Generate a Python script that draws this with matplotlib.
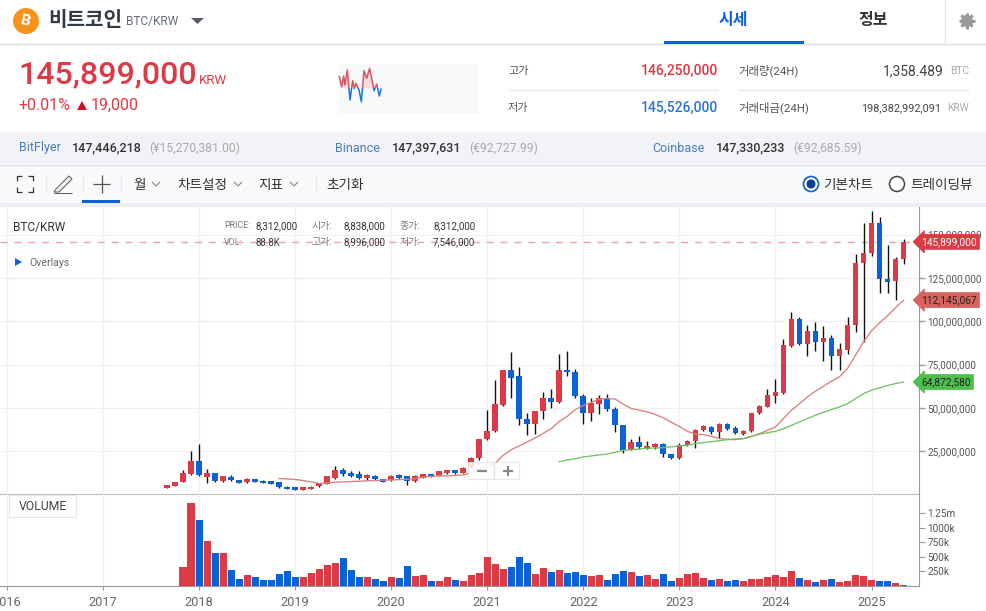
import matplotlib
matplotlib.use("Agg")
import matplotlib.pyplot as plt
from matplotlib.patches import Circle, Polygon, Rectangle
import numpy as np
import pandas as pd

plt.rcParams['font.family'] = ['Roboto', 'Noto Sans CJK KR', 'DejaVu Sans']

W, H = 987, 611
RED = '#dc3a45'
BLUE = '#0b62d6'

# monthly candles from 2017-09 to 2025-05, millions of KRW
opens = [3.7, 4.8, 6.9, 11.6, 19.1, 10.2, 12.2, 7.5, 10.2, 8.1, 6.9, 8.7, 7.9, 7.5, 7.0, 4.4,
         4.0, 2.5, 3.1, 4.6, 6.2, 9.6, 13.9, 12.4, 11.6, 9.3, 10.8, 8.7, 8.1, 11.0, 10.4,
         7.7, 9.6, 11.6, 10.6, 12.2, 13.9, 12.4, 15.8, 21.0, 31.8, 36.4, 51.7, 71.8, 68.3, 43.8,
         40.5, 48.0, 55.5, 53.2, 72.1, 70.4, 56.7, 47.1, 52.3, 55.4, 49.2, 39.9, 25.8, 30.5, 26.4,
         27.2, 28.9, 23.1, 20.8, 28.7, 30.8, 37.0, 39.1, 36.0, 40.5, 38.1, 34.7, 36.4, 47.0, 50.5,
         56.9, 58.6, 85.8, 101.2, 86.8, 94.3, 87.9, 90.2, 80.0, 83.5, 98.1, 133.8, 139.6, 157.0,
         124.4, 123.2, 136.0]
closes = [5.2, 7.3, 12.2, 19.1, 11.0, 12.2, 7.7, 10.4, 8.1, 6.6, 8.7, 7.1, 6.6, 6.0, 4.1, 3.1,
          2.5, 4.0, 4.4, 6.6, 10.4, 13.9, 11.6, 10.4, 9.6, 11.0, 8.7, 7.1, 10.8, 9.4, 7.7,
          10.4, 11.6, 10.0, 13.3, 13.9, 12.2, 15.4, 21.2, 31.8, 36.4, 52.1, 71.8, 67.5, 43.6, 40.5,
          48.0, 55.4, 53.4, 72.1, 70.8, 56.7, 47.1, 52.9, 55.4, 49.2, 39.9, 25.8, 30.5, 27.4, 27.8,
          28.9, 23.1, 20.8, 28.7, 31.0, 37.4, 39.3, 36.0, 40.5, 37.8, 35.5, 36.4, 46.8, 50.9, 57.3,
          59.0, 86.2, 101.2, 86.8, 94.3, 88.1, 90.2, 80.0, 83.9, 98.1, 133.4, 139.6, 157.0, 124.4,
          122.6, 136.0, 145.9]
highs = [5.3, 7.4, 13.9, 24.9, 29.0, 14.5, 12.6, 10.6, 10.9, 8.3, 9.6, 8.9, 8.0, 7.7, 7.2, 4.6,
         4.1, 4.1, 4.6, 6.8, 10.6, 16.6, 15.4, 13.3, 13.2, 12.0, 11.2, 8.9, 11.0, 12.0, 10.8,
         11.1, 11.9, 12.0, 13.6, 14.3, 14.2, 15.7, 21.6, 32.0, 48.6, 66.0, 72.0, 82.2, 73.3, 47.1,
         48.2, 59.0, 61.0, 81.2, 82.6, 72.7, 58.2, 55.4, 57.5, 57.7, 50.7, 40.1, 32.2, 33.6, 31.0,
         29.7, 29.7, 23.5, 29.9, 31.4, 38.0, 40.1, 39.7, 41.4, 41.4, 39.5, 37.0, 47.0, 51.7, 61.1,
         66.9, 90.0, 105.1, 102.6, 98.1, 99.3, 97.0, 92.0, 87.2, 102.2, 138.7, 157.0, 163.5, 160.0,
         144.0, 137.3, 147.3]
lows = [3.6, 4.6, 6.9, 11.0, 10.4, 6.8, 7.4, 7.2, 7.9, 6.4, 6.7, 6.9, 6.4, 5.8, 3.9, 3.0,
        2.4, 2.4, 3.0, 4.5, 6.0, 9.0, 10.4, 10.0, 9.0, 8.0, 8.0, 6.9, 7.9, 9.0, 5.6,
        7.4, 9.3, 9.8, 10.4, 11.9, 12.0, 12.2, 15.4, 19.7, 31.2, 36.0, 51.2, 55.4, 39.9, 34.0,
        35.0, 43.8, 50.0, 52.9, 68.3, 55.7, 40.7, 42.4, 46.7, 48.2, 36.3, 23.9, 25.5, 26.4, 26.0,
        26.4, 21.6, 20.5, 20.6, 28.0, 27.0, 36.4, 35.1, 32.8, 37.4, 35.1, 34.3, 36.0, 46.3, 50.5,
        53.0, 57.8, 85.2, 86.0, 80.0, 83.1, 77.3, 72.1, 72.1, 80.8, 93.5, 88.1, 137.7, 116.5,
        116.1, 112.2, 133.0]

# red average starts 2018-11, green average starts 2021-10
ma_short = [9.1, 8.9, 8.6, 8.0, 7.2, 6.3, 6.6, 7.0, 7.2, 7.4, 7.6, 7.8, 8.0, 8.2, 8.3, 8.5, 8.7,
            9.0, 10.0, 10.4, 10.7, 10.6, 10.9, 11.2, 12.5, 14.3, 15.8, 18.1, 22.6, 25.8, 28.0, 30.3,
            32.6, 35.3, 38.0, 42.2, 45.1, 49.0, 51.3, 53.2, 55.0, 55.4, 55.0, 52.1, 49.6, 48.6, 47.6,
            46.1, 44.2, 41.7, 39.2, 36.4, 34.7, 34.5, 33.5, 32.2, 31.8, 31.6, 32.2, 33.5, 35.1, 37.0,
            38.9, 43.8, 48.6, 52.4, 56.3, 59.6, 62.5, 65.4, 67.9, 72.7, 80.4, 88.1, 94.5, 99.1,
            103.2, 107.8, 112.2]
ma_long = [18.9, 19.9, 20.6, 21.6, 22.2, 22.8, 23.3, 24.3, 25.5, 25.8, 26.2, 26.6, 26.8, 27.0, 27.4,
           28.0, 28.4, 29.3, 29.9, 30.4, 31.0, 31.6, 32.0, 32.2, 33.5, 34.7, 35.6, 36.4, 37.9, 39.9,
           41.8, 43.8, 45.7, 47.4, 49.0, 50.5, 52.4, 55.3, 58.2, 60.2, 61.5, 62.9, 64.0, 64.9]

# thousands, starts 2017-11
volume = [325, 1416, 1125, 765, 560, 560, 268, 114, 183, 148, 97, 97, 200, 251,
          148, 148, 217, 285, 354, 388, 474, 268, 148, 148, 114, 80, 148, 131, 342,
          171, 188, 86, 86, 154, 103, 86, 188, 223, 497, 377, 291, 325, 497, 394,
          205, 308, 240, 274, 223, 240, 188, 171, 188, 103, 205, 257, 240, 171, 188,
          120, 205, 86, 137, 205, 223, 137, 103, 120, 86, 103, 86, 120, 120, 154,
          188, 154, 257, 137, 103, 68, 103, 120, 68, 86, 188, 171, 103, 86, 86, 51, 12]

year_labels = ['2016', '2017', '2018', '2019', '2020', '2021', '2022', '2023', '2024', '2025']
price_ticks = [25, 50, 75, 100, 125, 150]
volume_ticks = [250, 500, 750, 1000, 1250]
volume_tick_labels = ['250k', '500k', '750k', '1000k', '1.25m']

spark_vals = [50, 80, 48, 75, 30, 120, 62, 85, 70, 90, 125, 32, 55, 25, 65, 92, 72, 108, 88]
spark_pos = [13, 20, 26, 30, 37, 45, 53, 58, 63, 72, 79, 87, 95, 104, 112, 117, 125, 133, 138]

months = pd.date_range('2017-09-01', periods=len(opens), freq='MS')
x = np.arange(len(months))
up = np.array(closes) >= np.array(opens)
colors = [RED if u else BLUE for u in up]


def month_index(date):
    return (date.year - 2017) * 12 + date.month - 9


year_pos = [month_index(pd.Timestamp(y + '-01-01')) for y in year_labels]


def px_axes(left, top, right, bottom, **kw):
    return fig.add_axes([left / W, 1 - bottom / H, (right - left) / W, (bottom - top) / H], **kw)


fig = plt.figure(figsize=(W / 100, H / 100), dpi=100, facecolor='white')

# background bands
bg = px_axes(0, 0, W, H, zorder=0)
bg.set_xlim(0, W)
bg.set_ylim(H, 0)
bg.axis('off')
bg.add_patch(Rectangle((0, 132), W, 32, color='#f1f3f6', lw=0))
bg.add_patch(Rectangle((0, 165), W, 38, color='#f8f9fb', lw=0))
bg.add_patch(Rectangle((0, 203), W, 4, color='#eceef3', lw=0))
bg.add_patch(Rectangle((339, 64), 140, 50, color='#f8f9fb', lw=0))
bg.plot([0, W], [43.5, 43.5], color='#dcdee2', lw=1)
bg.plot([0, W], [164.5, 164.5], color='#dcdee2', lw=1)

# price chart
ax = px_axes(0, 207, 919, 494, zorder=2)
ax.patch.set_alpha(0)
xlim = (-167 / 8.006, (919 - 167) / 8.006)
ax.set_xlim(xlim)
ax.set_ylim(0.2, 166)
ax.set_xticks(year_pos)
ax.set_xticklabels([])
ax.tick_params(axis='x', length=0)
ax.set_yticks(price_ticks)
ax.set_yticklabels([f'{v * 1000000:,}' for v in price_ticks], fontsize=7.2, color='#555555')
ax.yaxis.tick_right()
ax.tick_params(axis='y', length=4, width=1, color='#999999', pad=2)
ax.grid(True, color='#f0f0f0', lw=0.9)
ax.set_axisbelow(True)
for s in ['top', 'left']:
    ax.spines[s].set_visible(False)
ax.spines['right'].set_color('#999999')
ax.spines['bottom'].set_color('#bdbdbd')

ax.axhline(closes[-1], color='#e8a3a3', lw=1, ls=(0, (5, 5)), zorder=1)
ax.vlines(x, lows, highs, color='#111111', lw=1, zorder=2)
bottoms = np.minimum(opens, closes)
heights = np.abs(np.array(closes) - np.array(opens))
ax.bar(x, heights, bottom=bottoms, width=0.72, color=colors, lw=0, zorder=3)
ax.plot(x[-len(ma_short):], ma_short, color='#d9807a', lw=0.95, zorder=4)
ax.plot(x[-len(ma_long):], ma_long, color='#70c263', lw=0.95, zorder=4)

tag_tf = ax.get_yaxis_transform()
tags = [(closes[-1], RED, 'white'), (ma_short[-1], '#d9625c', '#222222'), (ma_long[-1], '#4cc04c', '#222222')]
tag_texts = ['145,899,000', '112,145,067', '64,872,580']
for (val, col, tc), label_text in zip(tags, tag_texts):
    ax.text(1.0025, val, label_text, transform=tag_tf, va='center', ha='left', fontsize=7.3, color=tc,
            zorder=10, bbox=dict(boxstyle='larrow,pad=0.25', fc=col, ec=col, lw=0.5))

# volume chart
vax = px_axes(0, 494, 919, 586, zorder=2)
vax.patch.set_alpha(0)
vax.set_xlim(xlim)
vax.set_ylim(0, 1575)
vol_x = x[-len(volume):]
vax.bar(vol_x, volume, width=0.88, color=colors[-len(volume):], lw=0, zorder=3)
vax.set_xticks(year_pos)
vax.set_xticklabels(year_labels, fontsize=9.2, color='#666666')
vax.tick_params(axis='x', length=3, color='#999999', pad=4)
vax.set_yticks(volume_ticks)
vax.set_yticklabels(volume_tick_labels, fontsize=7.2, color='#555555')
vax.yaxis.tick_right()
vax.tick_params(axis='y', length=4, color='#999999', pad=2)
vax.grid(True, axis='x', color='#f0f0f0', lw=0.9)
vax.set_axisbelow(True)
for s in ['top', 'left']:
    vax.spines[s].set_visible(False)
vax.spines['right'].set_color('#999999')
vax.spines['bottom'].set_color('#999999')

# page chrome and texts on top
fg = px_axes(0, 0, W, H, zorder=5)
fg.set_xlim(0, W)
fg.set_ylim(H, 0)
fg.axis('off')


def label(px, py, s, size=8, color='#333333', ha='left', weight='normal', **kw):
    fg.text(px, py + 1, s, fontsize=size, color=color, ha=ha, va='center', fontweight=weight, **kw)


def line(xs, ys, color='#444444', lw=1.0):
    fg.plot(xs, ys, color=color, lw=lw, solid_capstyle='butt')


# header
fg.add_patch(Circle((26, 21), 13, color='#f7931a', lw=0))
label(26, 20, 'B', 11, 'white', ha='center', weight='bold', rotation=-12)
label(48, 19.5, '비트코인', 14.5, '#333b46', weight='bold')
label(126, 20, 'BTC/KRW', 8.6, '#666c75')
fg.add_patch(Polygon([[191, 18], [204, 18], [197.5, 24]], color='#555b66', lw=0))
label(733, 20, '시세', 11.5, BLUE, ha='center', weight='bold')
label(873, 20, '정보', 11.5, '#333333', ha='center', weight='bold')
fg.add_patch(Rectangle((664, 41), 140, 3, color=BLUE, lw=0))
line([944.5, 944.5], [0, 43], '#e2e4e8')
# gear icon
for a in np.arange(0, 180, 45):
    ca, sa = np.cos(np.radians(a)), np.sin(np.radians(a))
    line([967 - 8 * ca, 967 + 8 * ca], [21 - 8 * sa, 21 + 8 * sa], '#999999', 2.2)
fg.add_patch(Circle((967, 21), 6, color='#999999', lw=0))
fg.add_patch(Circle((967, 21), 2.6, color='white', lw=0))

# price block
label(18, 74, '145,899,000', 23.2, RED, weight='medium')
label(199, 80, 'KRW', 9.5, RED)
label(18, 104.5, '+0.01%', 11.5, RED)
fg.add_patch(Polygon([[77, 110], [87, 110], [82, 101]], color='#cc1122', lw=0))
label(91, 104.5, '19,000', 11.5, RED)

label(508, 70, '고가', 8, '#555555')
label(718, 70, '146,250,000', 10, RED, ha='right', weight='medium')
label(508, 107, '저가', 8, '#555555')
label(718, 107, '145,526,000', 10, '#2a75d8', ha='right', weight='medium')
line([508, 718], [89.5, 89.5], '#e6e8ec')
label(738, 70, '거래량(24H)', 8.2, '#555555')
label(944, 70, '1,358.489', 10, '#444444', ha='right')
label(969, 70, 'BTC', 7.4, '#aaaaaa', ha='right')
label(738, 107, '거래대금(24H)', 8.2, '#555555')
label(941, 107, '198,382,992,091', 7.8, '#444444', ha='right')
label(969, 107, 'KRW', 7.4, '#aaaaaa', ha='right')
line([738, 969], [89.5, 89.5], '#e6e8ec')

# sparkline, split at its baseline
spark = px_axes(335, 60, 395, 110, zorder=6)
spark.set_xlim(0, 180)
spark.set_ylim(150, 0)
spark.axis('off')
spark.fill_between(spark_pos, spark_vals, 85, where=np.array(spark_vals) <= 85, color='#f6dcdd', lw=0, interpolate=True)
for col, clip_y, clip_h in [('#d9555f', 0, 85), ('#1f72dc', 85, 65)]:
    ln, = spark.plot(spark_pos, spark_vals, color=col, lw=1.1)
    ln.set_clip_path(Rectangle((0, clip_y), 180, clip_h, transform=spark.transData))

# exchange band
exchanges = [(19, 'BitFlyer', 72, '147,446,218', 149, '(¥15,270,381.00)'),
             (335, 'Binance', 392, '147,397,631', 469, '(€92,727.99)'),
             (652, 'Coinbase', 716, '147,330,233', 793, '(€92,685.59)')]
for x0, name, x1, val, x2, quote in exchanges:
    label(x0, 147, name, 9, '#4a80b8')
    label(x1, 147, val, 9, '#333333', weight='medium')
    label(x2, 147, quote, 8.7, '#aaaaaa')

# toolbar icons
for sx, sy in [(17, 176), (33, 176), (17, 192), (33, 192)]:
    dx = 5 if sx == 17 else -5
    dy = 5 if sy == 176 else -5
    line([sx + dx, sx, sx], [sy, sy, sy + dy], '#333333', 0.9)
line([56, 69, 72, 59, 54, 56], [189, 176, 179, 192, 192, 189], '#555555', 0.7)
line([54, 72], [192.5, 192.5], '#555555', 0.7)
line([93, 110], [184, 184], '#555555', 0.9)
line([101.5, 101.5], [175, 193], '#555555', 0.9)
fg.add_patch(Rectangle((82, 200), 38, 3, color=BLUE, lw=0))
for sep in [45, 82, 120, 315]:
    line([sep + 0.5, sep + 0.5], [176, 192], '#e6e8ec')
label(133, 184, '월', 9.8, '#333333')
label(177, 184, '차트설정', 9.8, '#333333')
label(258, 184, '지표', 9.8, '#333333')
label(326, 184, '초기화', 9.8, '#333333')
for cx in [156, 238, 294]:
    line([cx - 4, cx, cx + 4], [182, 186, 182], '#888888', 0.8)
fg.add_patch(Circle((811, 184), 7.5, fc='white', ec=BLUE, lw=1.2))
fg.add_patch(Circle((811, 184), 4.5, color='#0a3d9a', lw=0))
label(823, 184, '기본차트', 9.8, '#333333')
fg.add_patch(Circle((897, 184), 7.5, fc='white', ec='#444444', lw=1.1))
label(910, 184, '트레이딩뷰', 9.8, '#333333')

# chart overlays
label(13, 226.5, 'BTC/KRW', 8.6, '#333333')
fg.add_patch(Polygon([[15, 258], [15, 266], [22, 262]], color=BLUE, lw=0))
label(29, 261.5, 'Overlays', 7.6, '#666666')
legend_rows = [(225, 'PRICE:', '8,312,000', '시가:', '8,838,000', '종가:', '8,312,000'),
               (241.5, 'VOL:', '88.8K', '고가:', '8,996,000', '저가:', '7,546,000')]
for ly, a, b, c, d, e, f in legend_rows:
    label(224, ly, a, 6.4, '#777777')
    label(256, ly, b, 7, '#333333')
    label(312, ly, c, 7.2, '#777777')
    label(344, ly, d, 7, '#333333')
    label(400, ly, e, 7.2, '#777777')
    label(433, ly, f, 7, '#333333')

# zoom control
fg.add_patch(Rectangle((468, 462), 51, 17, fc='white', ec='#e4e4e4', lw=0.8, alpha=0.85))
line([494, 494], [462, 479], '#e4e4e4')
line([477, 487], [470.5, 470.5], '#888888', 1.6)
line([503, 513], [470.5, 470.5], '#888888', 1.6)
line([508, 508], [465.5, 475.5], '#888888', 1.6)

# volume button
fg.add_patch(Rectangle((9, 495), 67, 22, fc='white', ec='#e6e6e6', lw=0.8))
label(42.5, 505, 'VOLUME', 8.8, '#444444', ha='center')

fig.savefig('out.png', dpi=100)
